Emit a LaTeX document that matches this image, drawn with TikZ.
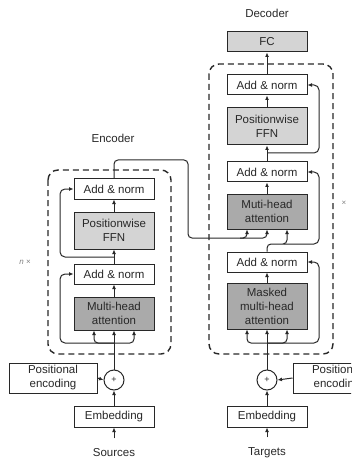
\documentclass[tikz,border=0pt]{standalone}
\usepackage{fontspec}
\setmainfont{Liberation Sans}
\definecolor{ffngray}{RGB}{212, 212, 212}
\definecolor{attngray}{RGB}{170, 170, 170}
\definecolor{inkgray}{RGB}{40, 40, 40}
\usetikzlibrary{arrows.meta, positioning, calc}

\begin{document}
\begin{tikzpicture}[x=1pt, y=-1pt,
  font=\fontsize{11.5}{14}\selectfont, text=inkgray,
  layer/.style={draw=inkgray, line width=1pt, fill=white, minimum width=80pt,
    minimum height=20pt, inner sep=1pt, align=center},
  ffnlayer/.style={layer, fill=ffngray},
  attnlayer/.style={layer, fill=attngray},
  addop/.style={circle, draw=inkgray, line width=1pt, fill=white,
    minimum size=20pt, inner sep=0pt, font=\fontsize{9}{9}\selectfont},
  flow/.style={draw=inkgray, line width=1pt, -{Latex[length=4.5pt, width=4pt]}},
  stack/.style={draw=inkgray, line width=1.4pt, dash pattern=on 6pt off 4pt,
    rounded corners=10pt}]
  \useasboundingbox (0,0) rectangle (351,462);
  \clip (0,0) rectangle (351,462);

  % Encoder
  \draw[stack] (48,170) rectangle (171,354);
  \node (enclabel) at (113,138) {Encoder};
  \node[layer] (eaddtop) at (114,189) {Add \& norm};
  \node[ffnlayer, minimum height=37pt] (effn) at (114,230.5) {Positionwise\\FFN};
  \node[layer] (eaddlow) at (114,274) {Add \& norm};
  \node[attnlayer, minimum height=33pt] (emha) at (114,313.5) {Multi-head\\attention};
  \node[addop] (eplus) at (114,380) {+};
  \node[layer, minimum width=88pt, minimum height=30pt] (epos) at (53,378) {Positional\\encoding};
  \node[layer, minimum height=21pt] (eemb) at (114,416.5) {Embedding};
  \node (sources) at (114,453) {Sources};
  \node[font=\fontsize{8}{8}\selectfont, text=gray] (encrep) at (25,262) {\textit{n} ×};

  \coordinate (ejin) at (114,343);
  \coordinate (ejffn) at (114,257);
  \draw[flow] ([yshift=7pt]sources.north) -- (eemb.south);
  \draw[flow] (eemb.north) -- (eplus.south);
  \draw[flow] (epos.east) -- (eplus.west);
  \draw[flow] (eplus.north) -- (emha.south);
  \draw[flow, rounded corners=4pt] (ejin) -| ([xshift=-20pt]emha.south);
  \draw[flow, rounded corners=4pt] (ejin) -| ([xshift=20pt]emha.south);
  \draw[flow, rounded corners=5pt] (ejin) -| (60,300) |- (eaddlow.west);
  \draw[flow] (emha.north) -- (eaddlow.south);
  \draw[flow] (eaddlow.north) -- (effn.south);
  \draw[flow, rounded corners=5pt] (ejffn) -| (60,220) |- (eaddtop.west);
  \draw[flow] (effn.north) -- (eaddtop.south);

  % Decoder
  \draw[stack] (209,64) rectangle (333,354);
  \node (declabel) at (267,13) {Decoder};
  \node[ffnlayer] (fc) at (267,42) {FC};
  \node[layer] (daddtop) at (267,85) {Add \& norm};
  \node[ffnlayer, minimum height=37pt] (dffn) at (267,126.5) {Positionwise\\FFN};
  \node[layer] (daddmid) at (267,172) {Add \& norm};
  \node[attnlayer, minimum height=35pt] (dmha) at (267,211.5) {Muti-head\\attention};
  \node[layer] (daddlow) at (267,262) {Add \& norm};
  \node[attnlayer, minimum height=46pt] (dmmha) at (267,306) {Masked\\multi-head\\attention};
  \node[addop] (dplus) at (267,380) {+};
  \node[layer, minimum width=88pt, minimum height=30pt] (dpos) at (337,378) {Positional\\encoding};
  \node[layer, minimum height=21pt] (demb) at (267,416.5) {Embedding};
  \node (targets) at (267,453) {Targets};
  \node[font=\fontsize{8}{8}\selectfont, text=gray] (decrep) at (344,203) {×};

  \coordinate (djin) at (267,343);
  \coordinate (djffn) at (267,153);
  \draw[flow] ([yshift=7pt]targets.north) -- (demb.south);
  \draw[flow] (demb.north) -- (dplus.south);
  \draw[flow] (dpos.west) -- (dplus.east);
  \draw[flow] (dplus.north) -- (dmmha.south);
  \draw[flow, rounded corners=4pt] (djin) -| ([xshift=-20pt]dmmha.south);
  \draw[flow, rounded corners=4pt] (djin) -| ([xshift=20pt]dmmha.south);
  \draw[flow, rounded corners=5pt] (djin) -| (319,300) |- (daddlow.east);
  \draw[flow] (dmmha.north) -- (daddlow.south);
  \draw[flow, rounded corners=4pt] (daddlow.north) |- (280,244) -| ([xshift=20pt]dmha.south);
  \draw[flow, rounded corners=5pt] (284,244) -| (319,210) |- (daddmid.east);
  \draw[flow] (dmha.north) -- (daddmid.south);
  \draw[flow] (daddmid.north) -- (dffn.south);
  \draw[flow, rounded corners=5pt] (djffn) -| (319,120) |- (daddtop.east);
  \draw[flow] (dffn.north) -- (daddtop.south);
  \draw[flow] (daddtop.north) -- (fc.south);

  % Encoder to decoder
  \draw[flow, rounded corners=4pt] (eaddtop.north) |- (188,160) |- (240,238) -| ([xshift=-20pt]dmha.south);
  \draw[flow, rounded corners=4pt] (240,238) -| (dmha.south);
\end{tikzpicture}
\end{document}
